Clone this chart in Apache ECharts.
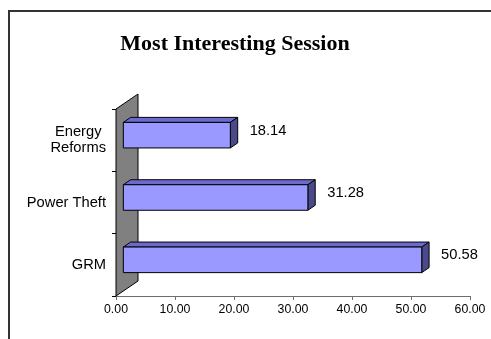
<!DOCTYPE html>
<html>
<head>
<meta charset="utf-8">
<script src="https://cdn.jsdelivr.net/npm/echarts@6/dist/echarts.min.js"></script>
<style>
  html, body { margin: 0; padding: 0; background: #fff; }
  #chart { width: 491px; height: 339px; }
</style>
</head>
<body>
<div id="chart"></div>
<script>
// ---- data ----
const titleText = 'Most Interesting Session';
const categories = ['GRM', 'Power Theft', 'Energy Reforms'];
const values = [50.58, 31.28, 18.14];
const xMin = 0;
const xMax = 60;
const xInterval = 10;

// ---- style constants ----
const WALL_DX = 22, WALL_DY = 15;          // 3D depth of the back wall
const BAR_FRAC = 0.41;                     // bar thickness relative to band
const FRONT = '#9999FF', TOP = '#6B6BCF', SIDE = '#4A4A8A';
const SANS = '"Liberation Sans", Arial, sans-serif';

const chart = echarts.init(document.getElementById('chart'), null, { renderer: 'canvas' });

const barData = categories.map((c, i) => [values[i], i]);

const option = {
  animation: false,
  backgroundColor: '#ffffff',
  graphic: [
    { type: 'rect', shape: { x: 9, y: 11, width: 520, height: 400 },
      style: { fill: 'none', stroke: '#333333', lineWidth: 2 }, silent: true, z: 0 },
    { type: 'text', x: 235, y: 44,
      style: { text: titleText, textAlign: 'center', textVerticalAlign: 'middle',
               font: 'bold 22px "Liberation Serif", "Times New Roman", serif', fill: '#000' }, z: 10 }
  ],
  grid: { left: 116, right: 21, top: 109, bottom: 43, containLabel: false },
  xAxis: {
    type: 'value', min: xMin, max: xMax, interval: xInterval,
    axisLine: { show: true, lineStyle: { color: '#6e6e6e', width: 1 } },
    axisTick: { show: true, length: 4, lineStyle: { color: '#6e6e6e' } },
    splitLine: { show: false },
    axisLabel: { formatter: v => v.toFixed(2), fontFamily: SANS, fontSize: 12.3, color: '#000', margin: 8 }
  },
  yAxis: {
    type: 'category', data: categories,
    axisLine: { show: true, lineStyle: { color: '#000', width: 1 } },
    axisTick: { show: true, length: 4, lineStyle: { color: '#000' } },
    axisLabel: {
      fontFamily: SANS, fontSize: 14.7, color: '#000', margin: 10, align: 'right',
      formatter: v => v === 'Energy Reforms' ? '{c|Energy}\n{c|Reforms}' : v,
      rich: { c: { align: 'center', fontFamily: SANS, fontSize: 14.7, color: '#000', lineHeight: 16 } }
    }
  },
  series: [
    {
      type: 'custom', name: 'wall', data: [[0, 0]], silent: true, z: 1,
      renderItem: function (params, api) {
        const cs = params.coordSys;
        const x = cs.x, y = cs.y, h = cs.height;
        return {
          type: 'polygon',
          shape: { points: [[x, y], [x + WALL_DX, y - WALL_DY], [x + WALL_DX, y + h - WALL_DY], [x, y + h]] },
          style: { fill: '#808080', stroke: '#000', lineWidth: 1 }
        };
      }
    },
    {
      type: 'custom', name: 'bars', data: barData, z: 3,
      renderItem: function (params, api) {
        const val = api.value(0);
        const idx = api.value(1);
        const band = api.size([0, 1])[1];
        const p0 = api.coord([0, idx]);
        const p1 = api.coord([val, idx]);
        const dx = WALL_DX / 3, dy = WALL_DY / 3;
        const barH = band * BAR_FRAC;
        const x0 = p0[0] + dx, x1 = p1[0] + dx;
        const yc = p0[1] - dy;
        const yT = yc - barH / 2, yB = yc + barH / 2;
        const edge = { stroke: '#000', lineWidth: 1, lineJoin: 'round' };
        return {
          type: 'group',
          children: [
            { type: 'polygon', shape: { points: [[x0, yT], [x0 + dx, yT - dy], [x1 + dx, yT - dy], [x1, yT]] },
              style: Object.assign({ fill: TOP }, edge) },
            { type: 'polygon', shape: { points: [[x1, yT], [x1 + dx, yT - dy], [x1 + dx, yB - dy], [x1, yB]] },
              style: Object.assign({ fill: SIDE }, edge) },
            { type: 'rect', shape: { x: x0, y: yT, width: x1 - x0, height: barH },
              style: Object.assign({ fill: FRONT }, edge) },
            { type: 'text', x: x1 + dx + 12, y: yc - dy / 2 - 2,
              style: { text: val.toFixed(2), textVerticalAlign: 'middle', textAlign: 'left',
                       font: '14.7px ' + SANS, fill: '#000' } }
          ]
        };
      }
    }
  ]
};

chart.setOption(option);
</script>
</body>
</html>
